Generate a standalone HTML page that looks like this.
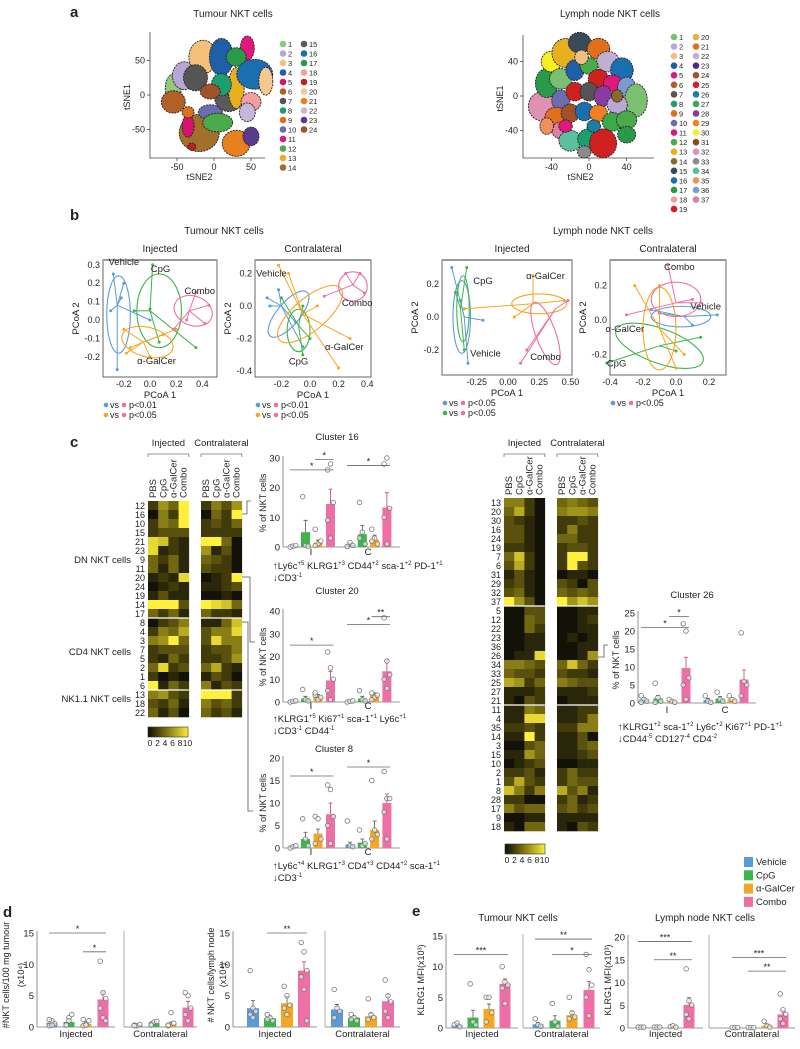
<!DOCTYPE html>
<html><head><meta charset="utf-8">
<style>
html,body{margin:0;padding:0;background:#fff;}
svg{display:block;font-family:"Liberation Sans Narrow","Liberation Sans",Arial,sans-serif;}
text{fill:#222;}
</style></head>
<body>
<svg id="fig" width="800" height="1049" viewBox="0 0 800 1049" xmlns="http://www.w3.org/2000/svg">
<g font-weight="bold" font-size="15">
<text x="70" y="17">a</text>
<text x="70" y="220">b</text>
<text x="70" y="447">c</text>
<text x="3" y="917">d</text>
<text x="412" y="916">e</text>
</g>
<g font-size="10" text-anchor="middle">
<text x="233" y="17">Tumour NKT cells</text>
<text x="610" y="17">Lymph node NKT cells</text>
<text x="224" y="234">Tumour NKT cells</text>
<text x="603" y="234">Lymph node NKT cells</text>
<text x="160" y="252">Injected</text>
<text x="313" y="252">Contralateral</text>
<text x="512" y="252">Injected</text>
<text x="668" y="252">Contralateral</text>
<text x="518" y="921">Tumour NKT cells</text>
<text x="705" y="921">Lymph node NKT cells</text>
</g>
<g id="layer"></g>
</svg>
<script>
// ---------- DATA ----------
const groups = ['Vehicle','CpG','α-GalCer','Combo'];
const groupColors = ['#5b9bd5','#3cb54a','#f5a623','#ee6fa5'];

// tSNE clusters: [x, y, rx, ry, clusterId]
const tsneTumourBlobs = [[-55,10,8,15,1],[-40,28,12,15,2],[-15,55,14,18,3],[10,55,12,20,4],[45,68,7,13,11],[30,55,10,10,17],[-55,-10,12,12,6],[-25,25,12,14,7],[-20,-55,20,20,14],[-5,-25,12,8,10],[20,-5,14,14,15],[30,10,8,22,13],[55,30,18,16,16],[70,20,7,15,20],[50,-10,10,10,18],[5,-40,15,10,12],[30,-70,14,14,21],[50,-60,8,10,23],[-35,-45,6,12,5],[-30,-75,4,4,19],[10,15,10,12,8],[-35,-25,6,6,9],[45,-25,8,10,22],[-5,5,10,8,24]];
const tsneLnBlobs = [[-50,-12,12,14,32],[-45,15,10,14,17],[-40,40,9,10,30],[-25,50,12,14,13],[-10,62,10,10,15],[10,55,10,10,9],[20,40,10,10,22],[35,30,10,12,16],[-30,20,10,10,1],[-15,30,8,10,4],[0,35,8,8,12],[10,20,9,9,19],[25,15,8,8,5],[40,10,8,10,36],[50,-5,10,16,1],[-30,-5,8,10,10],[-15,5,8,9,25],[0,5,8,9,7],[15,0,8,10,28],[30,-10,9,9,2],[-35,-25,10,10,21],[-20,-20,8,9,24],[-5,-18,8,9,16],[10,-20,8,8,29],[25,-30,9,9,27],[40,-28,9,9,12],[-30,-40,8,8,37],[-20,-52,10,10,34],[0,-50,10,10,8],[15,-55,12,14,25],[-5,-65,6,6,33],[40,-45,8,8,17],[-45,-35,6,8,35],[-8,45,6,7,3],[-25,-35,6,6,11],[30,0,5,6,14],[5,-35,6,6,26]];
const tumourColors = ['#8fc97a','#b9a6d6','#f5c07a','#1f5fa8','#d6136f','#b35f28','#555555','#1e9e6e','#e06f1c','#6c6cb0','#e0177d','#4bab4b','#e8b020','#a2702a','#5a5a5a','#1a6fb0','#2a9a4a','#f0a0a0','#c02020','#f5c890','#e88020','#c6b6d8','#5a3a8a','#a0522d'];
const lnColors = ['#7bc070','#b8a8d8','#f0c080','#1f5fa8','#e0177d','#b35f28','#555555','#1e9e6e','#e06f1c','#6c6cb0','#e0177d','#4bab4b','#e8b020','#8a6a2a','#3a4a5a','#1a6fb0','#2a9a4a','#f0a0a0','#d02020','#e8b040','#e07020','#c0b0d0','#4a2a8a','#a0522d','#d02020','#1a7fa0','#3aaa4a','#8a3aa0','#f08020','#f5f020','#8a4a1a','#e090b0','#8a8a8a','#5ac0a0','#f09060','#7a9ad0','#e080a0'];

// PCoA: per group centroid, points, ellipse [cx,cy,rx,ry,rot]
const pcoaT_inj = {cent:[[-0.25,0.08],[0.0,0.05],[-0.05,-0.12],[0.3,0.05]],
 pts:[[[-0.28,0.25],[-0.2,0.2],[-0.3,0.05],[-0.25,-0.27],[0.0,0.0],[-0.22,0.12]],[[0.02,0.3],[0.0,0.06],[0.35,-0.15],[-0.12,0.05],[0.07,-0.12]],[[-0.15,-0.15],[0.1,-0.08],[0.0,-0.2],[-0.18,-0.18],[0.2,-0.05],[-0.2,-0.05]],[[0.45,0.08],[0.35,0.15],[0.42,-0.02],[0.18,-0.05],[0.28,0.0]]],
 ell:[[-0.24,0.03,0.09,0.21,0],[0.07,0.05,0.17,0.2,0],[-0.02,-0.12,0.2,0.08,-15],[0.33,0.05,0.15,0.08,-20]],
 lab:[[-0.2,0.3,'Vehicle'],[0.08,0.26,'CpG'],[0.38,0.14,'Combo'],[0.05,-0.24,'α-GalCer']]};
const pcoaT_con = {cent:[[-0.2,0.0],[-0.08,-0.12],[-0.05,-0.05],[0.3,0.13]],
 pts:[[[-0.3,0.05],[-0.22,0.1],[-0.1,-0.1],[-0.05,-0.25],[-0.28,0.0]],[[-0.05,-0.3],[-0.2,0.05],[-0.05,0.0],[0.0,-0.2]],[[-0.22,0.25],[0.28,-0.2],[0.2,-0.38],[-0.15,0.2],[0.05,0.0]],[[0.35,0.2],[0.25,0.2],[0.38,0.08],[0.1,0.06]]],
 ell:[[-0.15,-0.05,0.2,0.07,50],[-0.08,-0.15,0.08,0.13,0],[0.0,-0.05,0.28,0.1,40],[0.3,0.12,0.1,0.09,0]],
 lab:[[-0.27,0.18,'Vehicle'],[-0.08,-0.36,'CpG'],[0.33,0.0,'Combo'],[0.24,-0.27,'α-GalCer']]};
const pcoaL_inj = {cent:[[-0.35,0.0],[-0.38,0.05],[0.2,0.08],[0.38,0.05]],
 pts:[[[-0.45,0.3],[-0.2,-0.02],[-0.32,-0.28],[-0.38,0.1]],[[-0.33,0.3],[-0.42,0.15],[-0.35,-0.2]],[[0.2,0.25],[0.45,0.1],[-0.35,0.05],[0.05,0.0]],[[0.1,-0.28],[0.48,0.1],[0.15,-0.2]]],
 ell:[[-0.37,0.0,0.07,0.22,0],[-0.36,0.05,0.05,0.2,0],[0.25,0.08,0.22,0.06,0],[0.3,-0.1,0.08,0.2,20]],
 lab:[[-0.2,0.2,'CpG'],[0.3,0.23,'α-GalCer'],[-0.18,-0.24,'Vehicle'],[0.3,-0.26,'Combo']]};
const pcoaL_con = {cent:[[0.05,0.02],[-0.1,-0.15],[-0.1,-0.05],[0.0,0.1]],
 pts:[[[0.25,0.03],[-0.15,0.06],[0.1,-0.03],[-0.1,0.04]],[[-0.42,-0.25],[0.0,-0.18],[0.15,-0.1]],[[-0.25,0.2],[0.0,-0.28],[-0.1,0.2],[0.05,-0.2]],[[-0.05,0.32],[-0.3,0.03],[0.1,0.12],[0.15,0.1]]],
 ell:[[0.03,0.02,0.18,0.06,0],[-0.1,-0.15,0.28,0.1,-20],[-0.1,-0.05,0.1,0.24,0],[0.0,0.12,0.15,0.1,0]],
 lab:[[0.18,0.06,'Vehicle'],[-0.36,-0.27,'CpG'],[-0.31,-0.07,'α-GalCer'],[0.02,0.29,'Combo']]};

// Heatmaps (values 0-10), rows top->bottom, cols PBS,CpG,α-GalCer,Combo
const hmLeftRows = ['12','16','10','15','21','23','9','11','20','24','19','14','17','8','4','3','7','5','2','1','6','13','18','22'];
const hmLeftInj = [[2,6,4,10],[0,5,2,10],[2,5,4,10],[2,3,3,3],[9,8,2,1],[9,1,2,1],[4,2,4,1],[4,1,4,1],[1,2,1,9],[0,1,2,1],[1,3,1,1],[10,10,10,3],[4,2,4,1],[0,2,3,5],[2,5,4,7],[5,6,10,4],[2,3,3,3],[2,1,4,2],[4,9,2,3],[2,0,1,0],[10,1,4,2],[5,6,3,2],[3,2,4,1],[4,1,3,0]];
const hmLeftCon = [[2,5,3,6],[0,4,2,10],[2,3,2,4],[2,2,2,2],[10,10,4,0],[6,1,3,0],[4,3,2,0],[3,2,2,0],[0,1,2,10],[1,1,2,3],[0,0,1,0],[10,9,8,4],[4,2,2,1],[1,1,4,8],[3,5,5,9],[3,9,5,5],[2,3,3,5],[2,2,3,6],[4,7,2,1],[1,3,2,0],[5,1,3,2],[10,10,10,2],[5,3,4,2],[4,2,3,1]];
const hmRightRows = ['13','20','30','16','24','19','7','6','31','29','32','37','5','12','22','23','36','26','34','33','25','27','21','11','4','35','14','3','15','10','2','1','8','28','17','9','18'];
const hmRightInj = [[5,5,2,0],[4,7,2,0],[3,2,1,0],[3,3,1,0],[3,3,1,0],[2,2,1,0],[4,8,2,0],[3,7,2,0],[1,3,1,0],[2,3,1,0],[3,4,1,0],[10,6,3,0],[0,0,3,3],[0,0,4,3],[0,0,4,2],[0,0,1,1],[0,0,1,1],[0,1,1,9],[5,5,4,3],[4,3,3,2],[7,6,2,4],[1,1,1,2],[1,0,3,2],[1,1,5,4],[1,1,9,9],[2,2,3,2],[1,1,10,2],[0,0,3,4],[1,1,6,4],[0,1,2,3],[2,2,3,1],[3,7,3,2],[8,5,2,5],[2,2,0,0],[5,3,4,4],[0,0,1,1],[1,0,4,4]];
const hmRightCon = [[4,5,4,3],[5,6,6,5],[2,2,3,2],[2,5,2,2],[4,4,2,2],[2,3,3,2],[2,10,10,2],[2,10,3,2],[0,1,1,0],[3,2,0,3],[4,3,4,3],[10,6,8,6],[0,0,1,1],[0,0,1,2],[0,0,1,1],[0,1,0,1],[0,0,1,1],[0,0,1,6],[4,8,4,2],[3,2,2,1],[5,4,3,3],[1,1,1,2],[0,1,1,1],[1,1,2,2],[1,1,2,5],[2,2,5,5],[1,1,3,0],[1,1,3,4],[1,1,2,3],[0,0,1,1],[2,4,2,2],[2,4,3,3],[7,3,5,1],[2,4,1,2],[3,4,2,3],[1,1,1,1],[1,0,3,2]];

// Bar charts: means [panel][group], errors, points
const c16Means = [[0.3,5,1.5,14.5],[0.8,4.3,2.5,13.3]];
const c16Errs  = [[0.2,4,0.8,5],[0.5,3,1.5,5]];
const c16Pts   = [[[0,0.3,0.5],[17,0.5,0.3],[6,1,2,0.5],[26,28,15,9,3]],[[0.2,1.5,0.5],[15,5,1,3],[6,3,1,2],[28,30,13,10,1]]];
const c20Means = [[0.3,1.5,2.5,9.5],[0.3,1.5,3,13.5]];
const c20Errs  = [[0.2,1,0.8,4],[0.2,1,1,5]];
const c20Pts   = [[[0,0.3,0.5],[5.5,1,0.5],[3,1,2,4],[22,15,10,5,1]],[[0,0.3,0.5],[5,1,0.5],[4,2,3,1],[37,18,12,10,6]]];
const c8Means  = [[0.3,2,3.2,7.5],[0.8,1.2,4,10]];
const c8Errs   = [[0.2,1.5,1,2.5],[0.5,0.8,2,2]];
const c8Pts    = [[[0,0.3,0.5],[6.5,2,0.5],[7,6.5,2,1],[14,13,7,5,1]],[[6,0.5,0.3],[4,0.5,1],[15,4,3,2],[17,11,11,8,2]]];
const c26Means = [[1,1.3,0.5,9.7],[0.8,1.2,1,6.5]];
const c26Errs  = [[0.5,0.8,0.3,3],[0.5,0.6,0.5,2.7]];
const c26Pts   = [[[2,1,0.5,0.2],[5.5,1.5,0.5,0.2],[1,0.5,0.2],[22,20,7,5,1]],[[2,0.5,0.2],[3,1,0.5],[2,1,0.5],[19.5,6,5,2]]];
const d1Means = [[0.7,0.8,0.5,4.4],[0.3,0.6,0.5,3.1]];
const d1Errs  = [[0.3,0.4,0.3,1.2],[0.1,0.2,0.3,1]];
const d1Pts   = [[[0.2,1,0.5,1.2,0.3],[0.4,1.5,2,0.3,1],[0.2,0.5,1,1.2,0.3],[10.5,5.5,4.5,3,1.5,1]],[[0.3,0.2,0.4,0.2],[0.5,0.8,0.9,0.3],[0.2,2.3,0.6,0.3],[5.5,5,3,2,1]]];
const d2Means = [[3,1.4,3.8,9],[2.8,1.5,1.7,4.1]];
const d2Errs  = [[1.2,0.3,1.1,1.4],[0.8,0.3,0.5,1.1]];
const d2Pts   = [[[9,3,2.5,2,1.5],[2,1.5,1,1.2],[6.5,5,3.5,3,2],[13.5,12,9,8,6,1]],[[6,3,2.5,1.5],[2,1.5,1,1.2],[4.5,2,1.5,1.2],[7.5,5,4,2.5,1.5]]];
const e1Means = [[0.5,1.7,3.1,7.2],[0.6,1.2,2.1,6.2]];
const e1Errs  = [[0.2,1.2,0.8,0.8],[0.3,0.8,0.6,1.4]];
const e1Pts   = [[[0.5,0.8,0.2],[7.2,1,0.5],[5,5,2.5,1],[10,7.5,7,6.5,4]],[[1.5,0.5,0.3],[4,1,0.3],[5,2.5,1.8,1.5],[12,9.5,7,5,2]]];
const e2Means = [[0.2,0.2,0.3,5.1],[0.1,0.1,0.5,3]];
const e2Errs  = [[0.05,0.05,0.1,1.6],[0.05,0.05,0.3,0.9]];
const e2Pts   = [[[0.2,0.2,0.2],[0.2,0.2,0.2],[0.3,0.5,0.2],[13,6,5,3,2]],[[0.1,0.1,0.1],[0.1,0.1,0.1],[1.5,0.5,0.2],[7.5,4,3,2,1]]];

// ---------- DRAWING ----------
const NS='http://www.w3.org/2000/svg';
const layer=document.getElementById('layer');
function el(tag,attrs,parent){const e=document.createElementNS(NS,tag);for(const k in attrs)e.setAttribute(k,attrs[k]);(parent||layer).appendChild(e);return e;}
function txt(x,y,s,size,anchor,parent,extra){const t=el('text',Object.assign({x:x,y:y,'font-size':size||9,'text-anchor':anchor||'middle'},extra||{}),parent);t.textContent=s;return t;}

// ---- tSNE ----
function tsne(cfg,blobs,colors,legendCols){
  const g=el('g',{});
  
  
  const sx=v=>cfg.x0+v*cfg.kx, sy=v=>cfg.y0-v*cfg.ky;
  blobs.forEach(b=>{
    const e=el('ellipse',{cx:sx(b[0]),cy:sy(b[1]),rx:b[2]*cfg.kx*cfg.grow,ry:b[3]*cfg.ky*cfg.grow,fill:colors[b[4]-1],stroke:'#222','stroke-width':0.9,'stroke-dasharray':'2 1'},g);
    
    
  });
  el('path',{d:`M${cfg.ax0},${cfg.ayTop}V${cfg.ayBot}H${cfg.axEnd}`,fill:'none',stroke:'#444','stroke-width':0.8},g);
  cfg.yt.forEach(v=>{el('line',{x1:cfg.ax0-3,x2:cfg.ax0,y1:sy(v),y2:sy(v),stroke:'#444','stroke-width':0.8},g);txt(cfg.ax0-5,sy(v)+3,String(v),9,'end',g);});
  cfg.xt.forEach(v=>{el('line',{x1:sx(v),x2:sx(v),y1:cfg.ayBot,y2:cfg.ayBot+3,stroke:'#444','stroke-width':0.8},g);txt(sx(v),cfg.ayBot+12,String(v),9,'middle',g);});
  const xl=txt((cfg.ax0+cfg.axEnd)/2-8,cfg.ayBot+22,'tSNE2',9,'middle',g);
  
  
  const yl=txt(cfg.ax0-20,(cfg.ayTop+cfg.ayBot)/2+2,'tSNE1',9,'middle',g,{transform:`rotate(-90 ${cfg.ax0-20} ${(cfg.ayTop+cfg.ayBot)/2+2})`});
  
  
  colors.forEach((c,i)=>{
    const col=Math.floor(i/legendCols), row=i%legendCols;
    const lx=cfg.lx+col*cfg.lcw, ly=cfg.ly+row*cfg.lstep;
    const le=el('g',{},g);
    
    
    el('circle',{cx:lx,cy:ly,r:3.3,fill:c},le);
    txt(lx+5,ly+3,String(i+1),7.5,'start',le);
  });
}
tsne({name:'tsne-tumour',grow:1.35,x0:214,kx:0.74,y0:95,ky:0.69,ax0:150,ayTop:32,ayBot:158,axEnd:265,yt:[50,0,-50],xt:[-50,0,50],lx:283,ly:44,lstep:9.5,lcw:21},tsneTumourBlobs,tumourColors,14);
tsne({name:'tsne-lymph-node',grow:1.2,x0:589,kx:0.94,y0:96,ky:0.86,ax0:523,ayTop:35,ayBot:158,axEnd:654,yt:[40,0,-40],xt:[-40,0,40],lx:674,ly:37,lstep:9.56,lcw:22},tsneLnBlobs,lnColors,19);

// ---- PCoA ----
function pcoa(cfg,d){
  const g=el('g',{});
  
  
  const sx=v=>cfg.x0+v*cfg.kx, sy=v=>cfg.y0-v*cfg.ky;
  el('rect',{x:cfg.bx,y:cfg.by,width:cfg.bw,height:cfg.bh,fill:'#fff',stroke:'#666','stroke-width':1},g);
  el('line',{x1:cfg.bx,x2:cfg.bx+cfg.bw,y1:cfg.by,y2:cfg.by,stroke:'#999','stroke-width':2},g);
  [0,1,2,3].forEach(k=>{
    const c=groupColors[k], cg=el('g',{},g);
    
    
    const [cx,cy]=d.cent[k];
    d.pts[k].forEach(p=>{
      el('line',{x1:sx(cx),y1:sy(cy),x2:sx(p[0]),y2:sy(p[1]),stroke:c,'stroke-width':1},cg);
      el('circle',{cx:sx(p[0]),cy:sy(p[1]),r:1.5,fill:c},cg);
    });
    const e=d.ell[k];
    el('ellipse',{cx:sx(e[0]),cy:sy(e[1]),rx:e[2]*cfg.kx,ry:e[3]*cfg.ky,fill:'none',stroke:c,'stroke-width':1.1,transform:`rotate(${-e[4]} ${sx(e[0])} ${sy(e[1])})`},cg);
  });
  d.lab.forEach(l=>{txt(sx(l[0]),sy(l[1]),l[2],9.5,'middle',g);});
  cfg.yt.forEach(v=>{txt(cfg.bx-3,sy(v)+3,v.toFixed(1),9,'end',g);});
  cfg.xt.forEach(v=>{txt(sx(v),cfg.by+cfg.bh+10,v.toFixed(cfg.xd),9,'middle',g);});
  txt(cfg.bx+cfg.bw/2,cfg.by+cfg.bh+21,'PCoA 1',9.5,'middle',g);
  const yx=cfg.bx-24, yy=cfg.by+cfg.bh/2;
  txt(yx,yy,'PCoA 2',9.5,'middle',g,{transform:`rotate(-90 ${yx} ${yy})`});
  cfg.leg.forEach((l,i)=>{
    const y=cfg.by+cfg.bh+31+i*10;
    el('circle',{cx:cfg.bx+3,cy:y-3,r:2.3,fill:groupColors[l[0]]},g);
    txt(cfg.bx+7,y,'vs',9,'start',g);
    el('circle',{cx:cfg.bx+21,cy:y-3,r:2.3,fill:groupColors[3]},g);
    txt(cfg.bx+26,y,l[1],9,'start',g);
  });
}
pcoa({name:'pcoa-tumour-injected',bx:103,by:260,bw:114,bh:117,x0:150,kx:131,y0:320,ky:184,yt:[0.3,0.2,0.1,0.0,-0.1,-0.2],xt:[-0.2,0,0.2,0.4],xd:1,leg:[[0,'p<0.01'],[2,'p<0.05']]},pcoaT_inj);
pcoa({name:'pcoa-tumour-contralateral',bx:255,by:260,bw:116,bh:117,x0:310,kx:143,y0:306,ky:163,yt:[0.2,0.0,-0.2,-0.4],xt:[-0.2,0,0.2,0.4],xd:1,leg:[[0,'p<0.01'],[2,'p<0.05']]},pcoaT_con);
pcoa({name:'pcoa-ln-injected',bx:442,by:260,bw:130,bh:115,x0:508,kx:125,y0:317,ky:165,yt:[0.2,0.0,-0.2],xt:[-0.25,0,0.25,0.5],xd:2,leg:[[0,'p<0.05'],[1,'p<0.05']]},pcoaL_inj);
pcoa({name:'pcoa-ln-contralateral',bx:610,by:260,bw:116,bh:115,x0:676,kx:165,y0:320,ky:172,yt:[0.2,0.0,-0.2],xt:[-0.4,-0.2,0,0.2],xd:1,leg:[[0,'p<0.05']]},pcoaL_con);

// ---- Heatmaps ----
function hmColor(v){const t=Math.max(0,Math.min(1,v/10));const r=Math.round(18+237*t),g=Math.round(18+222*Math.pow(t,1.05)),b=Math.round(8+52*t*t);return `rgb(${r},${g},${b})`;}
function heatmap(name,x,y,cw,rh,mat){
  const g=el('g',{});
  
  
  mat.forEach((row,i)=>row.forEach((v,j)=>{
    el('rect',{x:x+j*cw,y:y+i*rh,width:cw+0.3,height:rh+0.3,fill:hmColor(v)},g);
  }));
  return g;
}
function hmBlock(cfg,rows,inj,con){
  heatmap(cfg.name+'-injected',cfg.xi,cfg.y,cfg.cw,9,inj);
  heatmap(cfg.name+'-contralateral',cfg.xc,cfg.y,cfg.cw,9,con);
  rows.forEach((r,i)=>txt(cfg.xi-3,cfg.y+i*9+8,r,9,'end'));
  cfg.seps.forEach(k=>{
    el('line',{x1:cfg.xi,x2:cfg.xi+4*cfg.cw,y1:cfg.y+k*9,y2:cfg.y+k*9,stroke:'#fff','stroke-width':1.2});
    el('line',{x1:cfg.xc,x2:cfg.xc+4*cfg.cw,y1:cfg.y+k*9,y2:cfg.y+k*9,stroke:'#fff','stroke-width':1.2});
  });
  [[cfg.xi,'Injected'],[cfg.xc,'Contralateral']].forEach(([x,l])=>{
    txt(x+2*cfg.cw,cfg.ty,l,9.5,'middle');
    el('path',{d:`M${x},${cfg.ty+11}v-3H${x+4*cfg.cw}v3`,fill:'none',stroke:'#777','stroke-width':0.8});
    ['PBS','CpG','α-GalCer','Combo'].forEach((c,j)=>{
      const cx=x+j*cfg.cw+cfg.cw/2+3, cy=cfg.y-3;
      txt(cx,cy,c,9.5,'start',null,{transform:`rotate(-90 ${cx} ${cy})`});
    });
  });
}
hmBlock({name:'heatmap-tumour',xi:148,xc:201,cw:10.2,y:501,ty:446,seps:[13,21]},hmLeftRows,hmLeftInj,hmLeftCon);
hmBlock({name:'heatmap-lymph-node',xi:504,xc:557,cw:10.2,y:498,ty:446,seps:[12,23]},hmRightRows,hmRightInj,hmRightCon);
[['DN NKT cells',563],['CD4 NKT cells',655],['NK1.1 NKT cells',702]].forEach(([s,y])=>txt(131,y,s,9.5,'end'));
function colorbar(x,y,name){
  const g=el('g',{});
  
  
  for(let i=0;i<40;i++)el('rect',{x:x+i,y:y,width:1.2,height:10,fill:hmColor(i/4)},g);
  el('rect',{x:x,y:y,width:40,height:10,fill:'none',stroke:'#333','stroke-width':0.6},g);
  [0,2,4,6,8,10].forEach((v,i)=>txt(x+2+i*7.5,y+19,String(v),8.5,'middle',g));
}
colorbar(148,727,'colorbar-tumour');
colorbar(505,844,'colorbar-lymph-node');
// bracket connectors
el('path',{d:'M242,514h5v-13h4',fill:'none',stroke:'#555','stroke-width':0.8});
el('path',{d:'M242,577h8v65h5',fill:'none',stroke:'#555','stroke-width':0.8});
el('path',{d:'M242,622h6v189h5',fill:'none',stroke:'#555','stroke-width':0.8});
el('path',{d:'M598,657h6v-12h4',fill:'none',stroke:'#555','stroke-width':0.8});

// ---- Bar charts ----
function barChart(cfg,means,errs,pts,sig){
  const g=el('g',{});
  
  
  const sy=v=>cfg.y0-(v/cfg.ymax)*(cfg.y0-cfg.yTop);
  const bx=(p,k)=>cfg.starts[p]+k*cfg.steps[p];
  el('line',{x1:cfg.ax,x2:cfg.ax,y1:cfg.yTop-2,y2:cfg.y0,stroke:'#777','stroke-width':0.8},g);
  cfg.panels.forEach(pn=>{
    el('line',{x1:pn[0],x2:pn[1],y1:cfg.y0,y2:cfg.y0,stroke:'#777','stroke-width':0.8},g);
    if(pn[0]!==cfg.ax) el('line',{x1:pn[0],x2:pn[0],y1:cfg.yTop-2,y2:cfg.y0,stroke:'#999','stroke-width':0.8},g);
    txt((pn[0]+pn[1])/2,cfg.y0+cfg.labDy,pn[2],cfg.labSize||9.5,'middle',g);
  });
  cfg.ticks.forEach(v=>txt(cfg.ax-3,sy(v)+3.5,String(v),9.5,'end',g));
  means.forEach((row,p)=>row.forEach((m,k)=>{
    const x=bx(p,k), c=groupColors[k];
    const b=el('rect',{x:x-cfg.bw/2,y:sy(m),width:cfg.bw,height:cfg.y0-sy(m),fill:c},g);
    
    
    const e=errs[p][k];
    el('path',{d:`M${x},${sy(m)}V${sy(m+e)}M${x-2},${sy(m+e)}h4`,stroke:c==='#ee6fa5'?'#c0406f':'#555','stroke-width':0.8,fill:'none'},g);
    pts[p][k].forEach((v,i)=>{
      const dx=((i%3)-1)*2.8;
      el('circle',{cx:x+dx,cy:sy(v),r:2.3,fill:'#fff','fill-opacity':0.6,stroke:'#777','stroke-width':0.8},g);
    });
  }));
  sig.forEach(s=>{
    const x1=bx(s[0],s[1])-3, x2=bx(s[0],s[2])+3, y=sy(s[3]);
    el('line',{x1:x1,x2:x2,y1:y,y2:y,stroke:'#666','stroke-width':0.8},g);
    txt((x1+x2)/2,y-1,s[4],9,'middle',g);
  });
  if(cfg.ylab){cfg.ylab.forEach(l=>{txt(l[0],l[1],l[2],l[3]||9.5,'middle',g,{transform:`rotate(-90 ${l[0]} ${l[1]})`});});}
  return g;
}
barChart({name:'cluster16-chart',ax:283,yTop:458,y0:547,ymax:30,ticks:[0,10,20,30],starts:[293,350],steps:[12.5,12.3],bw:9,panels:[[283,400,'']],labDy:0,ylab:[[266,503,'% of NKT cells',9]]},c16Means,c16Errs,c16Pts,[[0,0,3,26,'*'],[0,2,3,29.5,'*'],[1,0,3,27.5,'*']]);
barChart({name:'cluster20-chart',ax:283,yTop:611,y0:702,ymax:40,ticks:[0,10,20,30,40],starts:[293,350],steps:[12.5,12.3],bw:9,panels:[[283,400,'']],labDy:0,ylab:[[266,657,'% of NKT cells',9]]},c20Means,c20Errs,c20Pts,[[0,0,3,25,'*'],[1,0,3,34,'*'],[1,2,3,37.5,'**']]);
barChart({name:'cluster8-chart',ax:283,yTop:758,y0:848,ymax:20,ticks:[0,5,10,15,20],starts:[293,350],steps:[12.5,12.3],bw:9,panels:[[283,400,'']],labDy:0,ylab:[[266,803,'% of NKT cells',9]]},c8Means,c8Errs,c8Pts,[[0,0,3,16,'*'],[1,0,3,18,'*']]);
barChart({name:'cluster26-chart',ax:638,yTop:613,y0:703,ymax:25,ticks:[0,5,10,15,20,25],starts:[644,708],steps:[14,12],bw:9,panels:[[638,756,'']],labDy:0,ylab:[[619,660,'% of NKT cells',9]]},c26Means,c26Errs,c26Pts,[[0,0,3,21,'*'],[0,2,3,24,'*']]);
[[311,555],[368,555],[311,709],[368,709],[311,855],[368,855],[667,713],[725,713]].forEach((p,i)=>txt(p[0],p[1],i%2?'C':'I',9.5));
function marker(x,y,up,down){
  const t1=txt(x,y,'',9.5,'start');t1.innerHTML=up;
  const t2=txt(x,y+12,'',9.5,'start');t2.innerHTML=down;
}
marker(273,569,'<tspan font-weight="bold">↑</tspan>Ly6c<tspan dy="-4" font-size="6">+5</tspan><tspan dy="4"> KLRG1</tspan><tspan dy="-4" font-size="6">+3</tspan><tspan dy="4"> CD44</tspan><tspan dy="-4" font-size="6">+2</tspan><tspan dy="4"> sca-1</tspan><tspan dy="-4" font-size="6">+2</tspan><tspan dy="4"> PD-1</tspan><tspan dy="-4" font-size="6">+1</tspan>','<tspan font-weight="bold">↓</tspan>CD3<tspan dy="-4" font-size="6">-1</tspan>');
marker(273,722,'<tspan font-weight="bold">↑</tspan>KLRG1<tspan dy="-4" font-size="6">+5</tspan><tspan dy="4"> Ki67</tspan><tspan dy="-4" font-size="6">+1</tspan><tspan dy="4"> sca-1</tspan><tspan dy="-4" font-size="6">+1</tspan><tspan dy="4"> Ly6c</tspan><tspan dy="-4" font-size="6">+1</tspan>','<tspan font-weight="bold">↓</tspan>CD3<tspan dy="-4" font-size="6">-1</tspan><tspan dy="4"> CD44</tspan><tspan dy="-4" font-size="6">-1</tspan>');
marker(273,869,'<tspan font-weight="bold">↑</tspan>Ly6c<tspan dy="-4" font-size="6">+4</tspan><tspan dy="4"> KLRG1</tspan><tspan dy="-4" font-size="6">+3</tspan><tspan dy="4"> CD4</tspan><tspan dy="-4" font-size="6">+3</tspan><tspan dy="4"> CD44</tspan><tspan dy="-4" font-size="6">+2</tspan><tspan dy="4"> sca-1</tspan><tspan dy="-4" font-size="6">+1</tspan>','<tspan font-weight="bold">↓</tspan>CD3<tspan dy="-4" font-size="6">-1</tspan>');
marker(618,730,'<tspan font-weight="bold">↑</tspan>KLRG1<tspan dy="-4" font-size="6">+2</tspan><tspan dy="4"> sca-1</tspan><tspan dy="-4" font-size="6">+2</tspan><tspan dy="4"> Ly6c</tspan><tspan dy="-4" font-size="6">+2</tspan><tspan dy="4"> Ki67</tspan><tspan dy="-4" font-size="6">+1</tspan><tspan dy="4"> PD-1</tspan><tspan dy="-4" font-size="6">+1</tspan>','<tspan font-weight="bold">↓</tspan>CD44<tspan dy="-4" font-size="6">-5</tspan><tspan dy="4"> CD127</tspan><tspan dy="-4" font-size="6">-4</tspan><tspan dy="4"> CD4</tspan><tspan dy="-4" font-size="6">-2</tspan>');
[['Cluster 16',337,440],['Cluster 20',337,594],['Cluster 8',334,752],['Cluster 26',692,598]].forEach(t=>txt(t[1],t[2],t[0],9.5));

// d and e
barChart({name:'d-tumour-nkt-count',ax:37,yTop:933,y0:1027,ymax:15,ticks:[0,5,10,15],starts:[52,137],steps:[17,17],bw:11,panels:[[37,115,'Injected'],[124,197,'Contralateral']],labDy:10,ylab:[[9,975,'#NKT cells/100 mg tumour',9],[24,975,'(x10⁴)',9]]},d1Means,d1Errs,d1Pts,[[0,0,3,15,'*'],[0,2,3,12,'*']]);
barChart({name:'d-ln-nkt-count',ax:233,yTop:933,y0:1027,ymax:15,ticks:[0,5,10,15],starts:[253,337],steps:[17,17],bw:12,panels:[[233,317,'Injected'],[325,400,'Contralateral']],labDy:10,ylab:[[214,975,'# NKT cells/lymph node',9],[226,975,'(x10⁴)',9]]},d2Means,d2Errs,d2Pts,[[0,1,3,15,'**']]);
barChart({name:'e-tumour-klrg1',ax:446,yTop:936,y0:1028,ymax:15,ticks:[0,5,10,15],starts:[457,538],steps:[16,17],bw:11,panels:[[446,518,'Injected'],[523,600,'Contralateral']],labDy:9,ylab:[[424,980,'KLRG1 MFI(x10³)',9]]},e1Means,e1Errs,e1Pts,[[0,0,3,12,'***'],[1,0,3,14.5,'**'],[1,1,3,12,'*']]);
barChart({name:'e-ln-klrg1',ax:628,yTop:937,y0:1028,ymax:20,ticks:[0,5,10,15,20],starts:[641,735],steps:[16,16],bw:11,panels:[[628,703,'Injected'],[709,795,'Contralateral']],labDy:9,ylab:[[611,980,'KLRG1 MFI(x10³)',9]]},e2Means,e2Errs,e2Pts,[[0,0,3,19,'***'],[0,1,3,15,'**'],[1,0,3,15.5,'***'],[1,1,3,12.5,'**']]);

// treatment legend
groups.forEach((gname,i)=>{
  const lg=el('g',{});
  
  
  el('rect',{x:744,y:857+i*13.3,width:9,height:10,fill:groupColors[i]},lg);
  txt(756,865+i*13.3,gname,9.5,'start',lg);
});
</script>
</body></html>
